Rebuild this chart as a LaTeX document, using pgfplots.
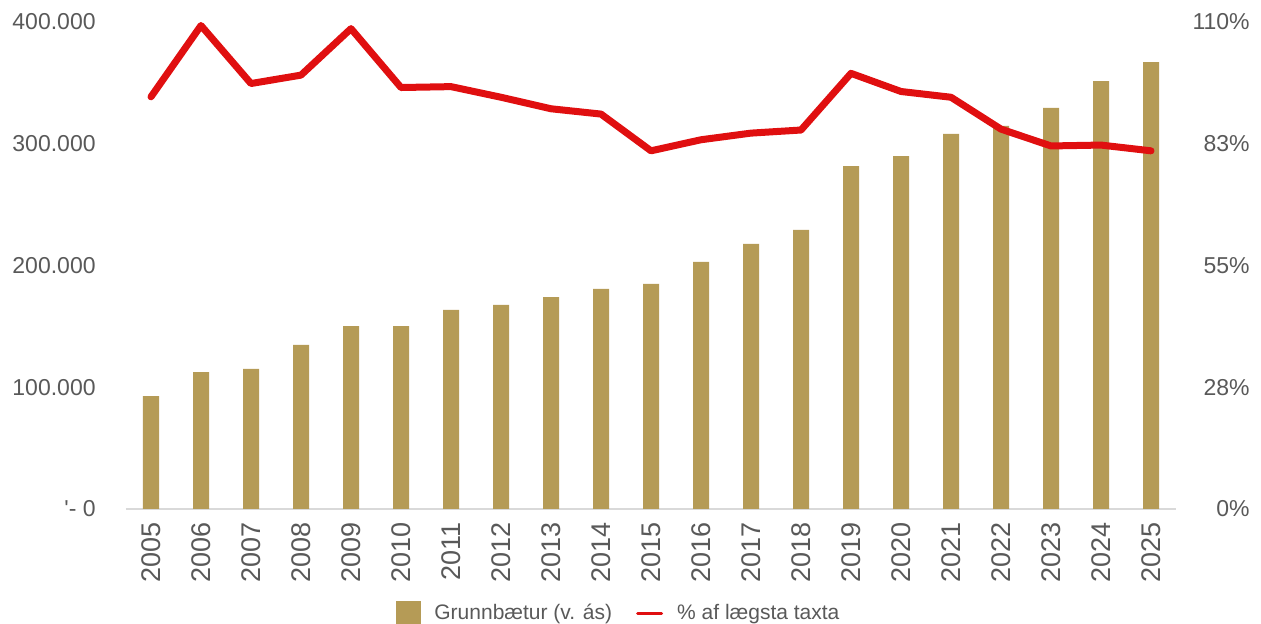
\documentclass[border=0pt]{standalone}
\usepackage{fontspec}
\setmainfont{Liberation Sans}
\usepackage{pgfplots}
\pgfplotsset{compat=1.18}
\definecolor{Gold}{HTML}{B59B56}
\definecolor{LineRed}{HTML}{E00F10}
\definecolor{TickGray}{HTML}{595959}
\definecolor{Rule}{HTML}{D9D9D9}

\begin{document}
\begin{tikzpicture}
\useasboundingbox (0,0) rectangle (630.5pt,312pt);
% left axis: bars
\begin{axis}[
  at={(63pt,57.5pt)}, anchor=south west,
  scale only axis, width=525pt, height=243.5pt,
  xmin=-0.5, xmax=20.5, ymin=0, ymax=400000,
  scaled y ticks=false,
  axis x line*=bottom, axis y line*=left,
  y axis line style={draw=none},
  x axis line style={draw=Rule, line width=1.2pt},
  major tick length=0pt,
  xtick={0,...,20},
  xticklabels={2005,2006,2007,2008,2009,2010,2011,2012,2013,2014,2015,2016,2017,2018,2019,2020,2021,2022,2023,2024,2025},
  xticklabel style={rotate=90, anchor=east, inner xsep=6.5pt, inner ysep=0pt,
    font=\fontsize{13.5}{14}\selectfont, text=TickGray},
  ytick={0,100000,200000,300000,400000},
  yticklabels={{\textquotesingle- 0},100.000,200.000,300.000,400.000},
  yticklabel style={anchor=east, inner sep=0pt, xshift=-15pt,
    font=\fontsize{11.5}{12}\selectfont, text=TickGray},
]
\addplot[ybar, bar width=8pt, fill=Gold, draw=none] coordinates {
  (0,92800) (1,112500) (2,115000) (3,134700) (4,150300) (5,150300)
  (6,163500) (7,167600) (8,174100) (9,180700) (10,184800) (11,202900)
  (12,217700) (13,229200) (14,281700) (15,289900) (16,308000) (17,314600)
  (18,329400) (19,351500) (20,367100)
};
\end{axis}
% right axis: percentage line
\begin{axis}[
  at={(63pt,57.5pt)}, anchor=south west,
  scale only axis, width=525pt, height=243.5pt,
  xmin=-0.5, xmax=20.5, ymin=0, ymax=110,
  hide x axis,
  axis y line*=right,
  y axis line style={draw=none},
  major tick length=0pt,
  ytick={0,27.5,55,82.5,110},
  yticklabels={0\%,28\%,55\%,83\%,110\%},
  yticklabel style={anchor=east, inner sep=0pt, xshift=37pt,
    font=\fontsize{11.5}{12}\selectfont, text=TickGray},
  clip=false,
  legend style={at={(0.47,-0.2136)}, anchor=center, draw=none, fill=none,
    legend columns=2, font=\fontsize{10.5}{12}\selectfont, text=TickGray,
    /tikz/every odd column/.append style={column sep=5pt},
    /tikz/every even column/.append style={column sep=10pt}},
]
\addlegendimage{legend image code/.code={\fill[Gold] (0pt,-6pt) rectangle (12pt,6pt);}}
\addlegendentry{Grunnbætur (v. ás)}
\addplot[LineRed, line width=3.5pt, line join=round, line cap=round,
  legend image code/.code={\draw[LineRed, line width=1.5pt] (0pt,0pt) -- (12pt,0pt);}]
  coordinates {
  (0,93.1) (1,109.2) (2,96.1) (3,98.0) (4,108.5) (5,95.2) (6,95.4)
  (7,93.0) (8,90.4) (9,89.2) (10,80.9) (11,83.4) (12,84.9) (13,85.6)
  (14,98.4) (15,94.3) (16,93.0) (17,85.8) (18,82.0) (19,82.2) (20,80.9)
};
\addlegendentry{\% af lægsta taxta}
\end{axis}
\end{tikzpicture}
\end{document}
